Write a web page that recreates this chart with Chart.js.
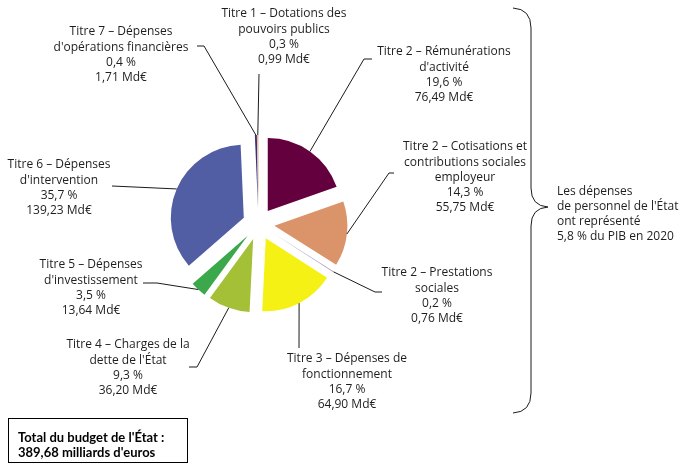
<!DOCTYPE html>
<html>
<head>
<meta charset="utf-8">
<script src="https://cdn.jsdelivr.net/npm/chart.js@4.4.1/dist/chart.umd.min.js"></script>
<style>
  html, body { margin: 0; padding: 0; background: #ffffff; }
  #wrap { position: relative; width: 686px; height: 470px; }
  canvas { display: block; }
</style>
</head>
<body>
<div id="wrap"><canvas id="c" width="686" height="470"></canvas></div>
<script>
// ---- Data ----
const categories = [
  "Titre 2 – Rémunérations d'activité",
  "Titre 2 – Cotisations et contributions sociales employeur",
  "Titre 2 – Prestations sociales",
  "Titre 3 – Dépenses de fonctionnement",
  "Titre 4 – Charges de la dette de l'État",
  "Titre 5 – Dépenses d'investissement",
  "Titre 6 – Dépenses d'intervention",
  "Titre 7 – Dépenses d'opérations financières",
  "Titre 1 – Dotations des pouvoirs publics"
];
const nameLines = [
  ["Titre 2 – Rémunérations", "d'activité"],
  ["Titre 2 – Cotisations et", "contributions sociales", "employeur"],
  ["Titre 2 – Prestations", "sociales"],
  ["Titre 3 – Dépenses de", "fonctionnement"],
  ["Titre 4 – Charges de la", "dette de l'État"],
  ["Titre 5 – Dépenses", "d'investissement"],
  ["Titre 6 – Dépenses", "d'intervention"],
  ["Titre 7 – Dépenses", "d'opérations financières"],
  ["Titre 1 – Dotations des", "pouvoirs publics"]
];
const shares  = [19.6, 14.3, 0.2, 16.7, 9.3, 3.5, 35.7, 0.4, 0.3];      // %
const amounts = [76.49, 55.75, 0.76, 64.90, 36.20, 13.64, 139.23, 1.71, 0.99]; // Md€
const totalText = ["Total du budget de l'État :", "389,68 milliards d'euros"];
const noteText = ["Les dépenses", "de personnel de l'État", "ont représenté", "5,8 % du PIB en 2020"];

// ---- Styles / layout ----
const colors = ["#65003e", "#db946a", "#a99fc4", "#f5f114", "#a3c037", "#3ba84b", "#525ea3", "#2e3192", "#e99a4d"];
const labelLayout = [
  { cx: 444, y0: 52,  path: [[364, 59], [372, 59]] },
  { cx: 465, y0: 147, path: [[389, 173], [394, 173]] },
  { cx: 437, y0: 273, path: [[375, 292], [382, 292]] },
  { cx: 347, y0: 359, path: [[299, 348]] },
  { cx: 128, y0: 345, path: [[197, 367], [189, 367]] },
  { cx: 91,  y0: 265, path: [[157, 283], [143, 283]] },
  { cx: 59,  y0: 165, path: [[112, 186]] },
  { cx: 121, y0: 32,  path: [[204, 46], [197, 46]] },
  { cx: 284, y0: 14,  path: [[259, 74]] }
];
const LINE_H = 15.2;
const FONT = "12px 'Open Sans', sans-serif";
const TEXT_COLOR = "#1e1e1e";

// Exploded slices: translate each arc along its bisector by its offset (pure translation)
const ArcEl = Chart.ArcElement || (Chart.elements && Chart.elements.ArcElement);
const baseDraw = ArcEl.prototype.draw;
ArcEl.prototype.draw = function (ctx) {
  const opts = this.options;
  const d = opts.offset || 0;
  if (!d) return baseDraw.call(this, ctx);
  const mid = (this.startAngle + this.endAngle) / 2;
  const x0 = this.x, y0 = this.y;
  this.x = x0 + Math.cos(mid) * d;
  this.y = y0 + Math.sin(mid) * d;
  this.options = Object.assign({}, opts, { offset: 0 });
  try { baseDraw.call(this, ctx); }
  finally { this.x = x0; this.y = y0; this.options = opts; }
};

const fmtPct = v => v.toFixed(1).replace('.', ',') + ' %';
const fmtAmt = v => v.toFixed(2).replace('.', ',') + ' Md€';

const annotations = {
  id: 'annotations',
  afterDatasetsDraw(chart) {
    const ctx = chart.ctx;
    const meta = chart.getDatasetMeta(0);
    ctx.save();
    ctx.strokeStyle = "#1a1a1a";
    ctx.lineWidth = 1;
    ctx.fillStyle = TEXT_COLOR;
    ctx.font = FONT;
    ctx.textAlign = 'center';
    ctx.textBaseline = 'middle';
    meta.data.forEach((el, i) => {
      const L = labelLayout[i];
      const mid = (el.startAngle + el.endAngle) / 2;
      const r = el.outerRadius + (el.options.offset || 0);
      ctx.beginPath();
      ctx.moveTo(el.x + Math.cos(mid) * r, el.y + Math.sin(mid) * r);
      L.path.forEach(p => ctx.lineTo(p[0], p[1]));
      ctx.stroke();
      const lines = nameLines[i].concat([fmtPct(shares[i]), fmtAmt(amounts[i])]);
      lines.forEach((t, k) => ctx.fillText(t, L.cx, L.y0 + k * LINE_H));
    });

    // Total box
    ctx.strokeStyle = "#000";
    ctx.strokeRect(8.5, 418.5, 179, 44);
    ctx.textAlign = 'left';
    ctx.font = "bold 13px Lato, 'Open Sans', sans-serif";
    ctx.fillStyle = "#000";
    ctx.fillText(totalText[0], 18, 438);
    ctx.fillText(totalText[1], 18, 453);

    // Brace
    ctx.strokeStyle = "#1a1a1a";
    ctx.beginPath();
    ctx.moveTo(513, 8);
    ctx.quadraticCurveTo(531, 9, 531, 28);
    ctx.lineTo(531, 188);
    ctx.quadraticCurveTo(531, 206, 548, 207);
    ctx.quadraticCurveTo(531, 208, 531, 226);
    ctx.lineTo(531, 393);
    ctx.quadraticCurveTo(531, 412, 513, 413);
    ctx.stroke();

    // Note text
    ctx.font = "12px 'Open Sans', sans-serif";
    ctx.fillStyle = TEXT_COLOR;
    noteText.forEach((t, k) => ctx.fillText(t, 557, 192 + k * 14.8));
    ctx.restore();
  }
};

new Chart(document.getElementById('c'), {
  type: 'pie',
  data: {
    labels: categories,
    datasets: [{
      data: amounts,
      backgroundColor: colors,
      borderWidth: 0,
      offset: 16,
      radius: 73
    }]
  },
  options: {
    responsive: false,
    animation: false,
    events: [],
    radius: 73,
    layout: { padding: { left: 0, right: 169, top: 0, bottom: 22 } },
    plugins: { legend: { display: false }, tooltip: { enabled: false } }
  },
  plugins: [annotations]
});
</script>
</body>
</html>
